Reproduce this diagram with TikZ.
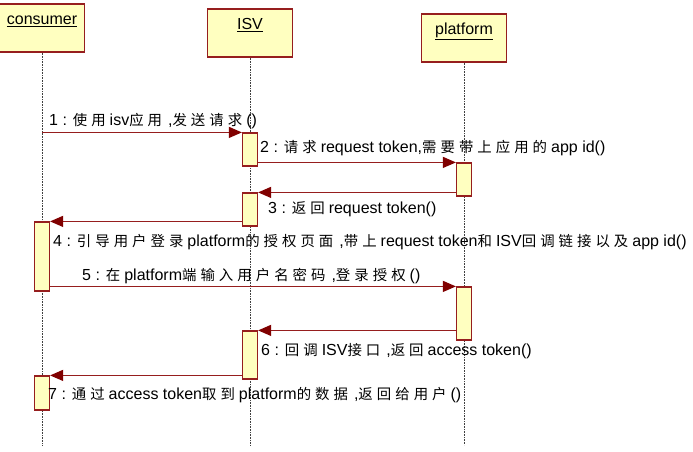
\documentclass[tikz,border=0pt]{standalone}
\usepackage{fontspec}
\setmainfont{Liberation Sans}
\newfontfamily\cjkfont[LetterSpace=28,Scale=0.9]{Noto Sans CJK SC}
\newcommand{\zh}[1]{{\cjkfont #1}\kern4pt}
\newcommand{\zcomma}{\hspace{2pt},}
\usetikzlibrary{arrows.meta}
\definecolor{umlline}{RGB}{150,30,30}
\definecolor{umlfill}{RGB}{255,255,192}
\definecolor{umltip}{RGB}{128,0,0}
\tikzset{
	actor/.style={draw=umlline,fill=umlfill,line width=1.2pt,minimum width=85pt,minimum height=48pt,inner sep=0pt},
	actorname/.style={anchor=base,inner sep=0pt,font=\fontsize{16}{19}\selectfont},
	lifeline/.style={densely dotted,line width=0.6pt,black!75},
	bar/.style={draw=umlline,fill=umlfill,line width=1.2pt,minimum width=15pt,inner sep=0pt},
	msg/.style={umlline,line width=1.2pt,-{Triangle[length=13pt,width=11pt,color=umltip]}},
	msglabel/.style={anchor=base west,inner sep=0pt,font=\fontsize{16}{19}\selectfont}
}
\begin{document}
\begin{tikzpicture}[x=1pt,y=-1pt]
	\useasboundingbox (0,0) rectangle (693,451);
	\coordinate (bottom) at (0,445);
	% objects
	\node[actor] (consumer) at (42,28) {};
	\node[actor] (isv) at (250,33) {};
	\node[actor] (platform) at (464,38) {};
	\node[actorname] (consumer-t) at ([yshift=-21pt]consumer.north) {\underline{consumer}};
	\node[actorname] (isv-t) at ([yshift=-21pt]isv.north) {\underline{ISV}};
	\node[actorname] (platform-t) at ([yshift=-21pt]platform.north) {\underline{platform}};
	\draw[lifeline] (consumer.south) -- (consumer.south |- bottom);
	\draw[lifeline] (isv.south) -- (isv.south |- bottom);
	\draw[lifeline] (platform.south) -- (platform.south |- bottom);
	% activations
	\node[bar,minimum height=33pt] (isv1) at (250,149.5) {};
	\node[bar,minimum height=33pt] (plat1) at (464,179.5) {};
	\node[bar,minimum height=33pt] (isv2) at (250,209.5) {};
	\node[bar,minimum height=69pt] (con1) at (42,256.5) {};
	\node[bar,minimum height=53pt] (plat2) at (464,313.5) {};
	\node[bar,minimum height=48pt] (isv3) at (250,355) {};
	\node[bar,minimum height=34pt] (con2) at (42,393) {};
	% messages
	\draw[msg] (consumer |- isv1.north) -- (isv1.north west);
	\draw[msg] (isv1.east |- plat1.north) -- (plat1.north west);
	\draw[msg] (plat1.west |- isv2.north) -- (isv2.north east);
	\draw[msg] (isv2.west |- con1.north) -- (con1.north east);
	\draw[msg] (con1.east |- plat2.north) -- (plat2.north west);
	\draw[msg] (plat2.west |- isv3.north) -- (isv3.north east);
	\draw[msg] (isv3.west |- con2.north) -- (con2.north east);
	\node[msglabel] (l1) at (49,125) {1 : \zh{使用}isv\zh{应用}\zcomma\zh{发送请求}()};
	\node[msglabel] (l2) at (260,152) {2 : \zh{请求}request token,\zh{需要带上应用的}app id()};
	\node[msglabel] (l3) at (268,213) {3 : \zh{返回}request token()};
	\node[msglabel] (l4) at (53,246) {4 : \zh{引导用户登录}platform\zh{的授权页面}\zcomma\zh{带上}request token\zh{和}ISV\zh{回调链接以及}app id()};
	\node[msglabel] (l5) at (82,280) {5 : \zh{在}platform\zh{端输入用户名密码}\zcomma\zh{登录授权}()};
	\node[msglabel] (l6) at (261,355) {6 : \zh{回调}ISV\zh{接口}\zcomma\zh{返回}access token()};
	\node[msglabel] (l7) at (48,399) {7 : \zh{通过}access token\zh{取到}platform\zh{的数据}\zcomma\zh{返回给用户}()};
\end{tikzpicture}
\end{document}
